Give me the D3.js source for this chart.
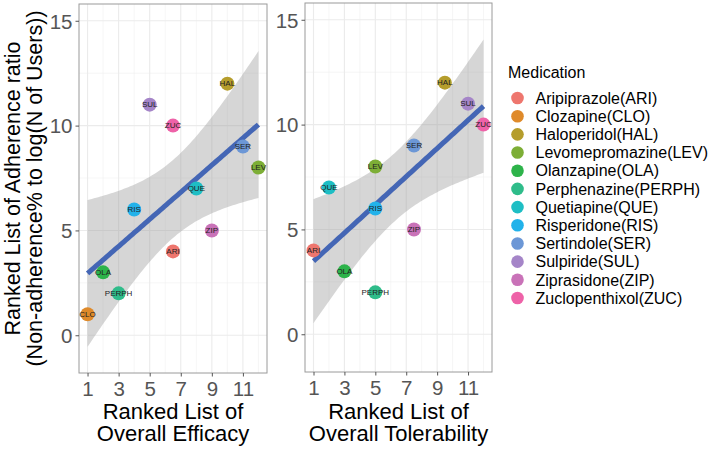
<!DOCTYPE html>
<html>
<head>
<meta charset="utf-8">
<script src="https://cdn.jsdelivr.net/npm/d3@7"></script>
<style>
  html, body { margin: 0; padding: 0; background: #fff; }
  svg { display: block; font-family: "Liberation Sans", Arial, Helvetica, sans-serif; }
</style>
</head>
<body>
<svg id="chart" width="717" height="449"></svg>
<script>
// ---------------- data ----------------
const medications = ["Aripiprazole(ARI)", "Clozapine(CLO)", "Haloperidol(HAL)", "Levomepromazine(LEV)",
  "Olanzapine(OLA)", "Perphenazine(PERPH)", "Quetiapine(QUE)", "Risperidone(RIS)",
  "Sertindole(SER)", "Sulpiride(SUL)", "Ziprasidone(ZIP)", "Zuclopenthixol(ZUC)"];
const codes = ["ARI", "CLO", "HAL", "LEV", "OLA", "PERPH", "QUE", "RIS", "SER", "SUL", "ZIP", "ZUC"];
const medColors = ["#EE766E", "#DF8A2A", "#B59D2C", "#7DAE36", "#2DB34A", "#2FBC8A",
  "#1EBEC4", "#22B2EA", "#6C97D6", "#A585C8", "#C972B8", "#EE62A8"];
const adherenceRank = [4, 1, 12, 8, 3, 2, 7, 6, 9, 11, 5, 10];
const efficacyRank = [6.5, 1, 10, 12, 2, 3, 8, 4, 11, 5, 9, 6.5];
const tolerabilityRank = [1, null, 9.5, 5, 3, 5, 2, 5, 7.5, 11, 7.5, 12];
const xTicks = [1, 3, 5, 7, 9, 11];
const yTicks = [0, 5, 10, 15];
const yTitle = ["Ranked List of Adherence ratio", "(Non-adherence% to log(N of Users))"];
const legendTitle = "Medication";

// ---------------- layout ----------------
const svg = d3.select("#chart");
const panels = [
  { x0: 79, x1: 267, y0: 4, y1: 373, xs: efficacyRank, title: ["Ranked List of", "Overall Efficacy"] },
  { x0: 305, x1: 492, y0: 3, y1: 372, xs: tolerabilityRank, title: ["Ranked List of", "Overall Tolerability"] }
];
const xDomain = [1 - 0.55, 12 + 0.55];
const yDomain = [-1 - 0.8, 15 + 0.8];
const tq = { 8: 2.306, 9: 2.262, 10: 2.228, 11: 2.201 };

function lmFit(pts) {
  const n = pts.length;
  const mx = d3.mean(pts, d => d.x), my = d3.mean(pts, d => d.y);
  const sxx = d3.sum(pts, d => (d.x - mx) ** 2);
  const sxy = d3.sum(pts, d => (d.x - mx) * (d.y - my));
  const b = sxy / sxx, a = my - b * mx;
  const sse = d3.sum(pts, d => (d.y - a - b * d.x) ** 2);
  const s = Math.sqrt(sse / (n - 2));
  const t = tq[n - 2] || 2.2;
  return x => {
    const fit = a + b * x;
    const se = s * Math.sqrt(1 / n + (x - mx) ** 2 / sxx);
    return { x, fit, lo: fit - t * se, hi: fit + t * se };
  };
}

const defs = svg.append("defs");

panels.forEach((p, pi) => {
  const x = d3.scaleLinear().domain(xDomain).range([p.x0, p.x1]);
  const y = d3.scaleLinear().domain(yDomain).range([p.y1, p.y0]);
  const pts = p.xs.map((v, i) => ({ x: v, y: adherenceRank[i], code: codes[i], color: medColors[i] }))
    .filter(d => d.x !== null);

  defs.append("clipPath").attr("id", "clip" + pi)
    .append("rect").attr("x", p.x0).attr("y", p.y0).attr("width", p.x1 - p.x0).attr("height", p.y1 - p.y0);

  const g = svg.append("g");
  g.append("rect").attr("x", p.x0).attr("y", p.y0).attr("width", p.x1 - p.x0).attr("height", p.y1 - p.y0)
    .attr("fill", "#fff");
  const minorX = d3.range(2, 13, 2);
  const minorY = [-2.5, 2.5, 7.5, 12.5];
  const grid = g.append("g").attr("clip-path", `url(#clip${pi})`);
  grid.selectAll(".mx").data(minorX).join("line")
    .attr("x1", d => x(d)).attr("x2", d => x(d)).attr("y1", p.y0).attr("y2", p.y1)
    .attr("stroke", "#F0F0F0").attr("stroke-width", 0.6);
  grid.selectAll(".my").data(minorY).join("line")
    .attr("y1", d => y(d)).attr("y2", d => y(d)).attr("x1", p.x0).attr("x2", p.x1)
    .attr("stroke", "#F0F0F0").attr("stroke-width", 0.6);
  grid.selectAll(".Mx").data(xTicks).join("line")
    .attr("x1", d => x(d)).attr("x2", d => x(d)).attr("y1", p.y0).attr("y2", p.y1)
    .attr("stroke", "#EBEBEB").attr("stroke-width", 1.1);
  grid.selectAll(".My").data(yTicks).join("line")
    .attr("y1", d => y(d)).attr("y2", d => y(d)).attr("x1", p.x0).attr("x2", p.x1)
    .attr("stroke", "#EBEBEB").attr("stroke-width", 1.1);

  // smooth (lm fit with 95% CI)
  const f = lmFit(pts);
  const xmin = d3.min(pts, d => d.x), xmax = d3.max(pts, d => d.x);
  const band = d3.range(0, 81).map(i => f(xmin + (xmax - xmin) * i / 80));
  const sm = g.append("g").attr("clip-path", `url(#clip${pi})`);
  sm.append("path").datum(band)
    .attr("d", d3.area().x(d => x(d.x)).y0(d => y(d.lo)).y1(d => y(d.hi)))
    .attr("fill", "#999999").attr("fill-opacity", 0.4);
  sm.append("path").datum(band)
    .attr("d", d3.line().x(d => x(d.x)).y(d => y(d.fit)))
    .attr("fill", "none").attr("stroke", "#4466B5").attr("stroke-width", 5);

  // points
  g.selectAll("circle.pt").data(pts).join("circle")
    .attr("cx", d => x(d.x)).attr("cy", d => y(d.y)).attr("r", 7)
    .attr("fill", d => d.color);
  g.selectAll("text.lab").data(pts).join("text")
    .attr("x", d => x(d.x)).attr("y", d => y(d.y)).attr("dy", "0.35em")
    .attr("text-anchor", "middle").attr("font-size", 8).attr("fill", "#222")
    .text(d => d.code);

  g.append("rect").attr("x", p.x0).attr("y", p.y0).attr("width", p.x1 - p.x0).attr("height", p.y1 - p.y0)
    .attr("fill", "none").attr("stroke", "#9A9A9A").attr("stroke-width", 1);

  // axes
  const xa = d3.axisBottom(x).tickValues(xTicks).tickSize(3.5).tickPadding(4).tickFormat(d3.format("d"));
  const xg = svg.append("g").attr("transform", `translate(0,${p.y1})`).call(xa);
  const ya = d3.axisLeft(y).tickValues(yTicks).tickSize(3.5).tickPadding(3).tickFormat(d3.format("d"));
  const yg = svg.append("g").attr("transform", `translate(${p.x0},0)`).call(ya);
  [xg, yg].forEach(ag => {
    ag.select(".domain").remove();
    ag.selectAll(".tick line").attr("stroke", "#555");
    ag.selectAll(".tick text").attr("fill", "#555").attr("font-size", 20.5)
      .attr("font-family", "'Liberation Sans', Arial, sans-serif");
  });
  xg.selectAll(".tick text").attr("dy", null).attr("y", 22.5);
  yg.selectAll(".tick text").attr("dy", "0.36em");

  const cx = (p.x0 + p.x1) / 2;
  svg.append("text").attr("x", cx).attr("y", 419).attr("text-anchor", "middle")
    .attr("font-size", 22).attr("fill", "#000").text(p.title[0]);
  svg.append("text").attr("x", cx).attr("y", 441).attr("text-anchor", "middle")
    .attr("font-size", 22).attr("fill", "#000").text(p.title[1]);
});

// y title
const ycy = (panels[0].y0 + panels[0].y1) / 2;
[20, 42].forEach((bx, i) => {
  svg.append("text").attr("transform", `translate(${bx},${ycy}) rotate(-90)`)
    .attr("text-anchor", "middle").attr("font-size", 21.5).attr("fill", "#000").text(yTitle[i]);
});

// legend
const lg = svg.append("g");
lg.append("text").attr("x", 508).attr("y", 78).attr("font-size", 16).attr("fill", "#000").text(legendTitle);
const rowY = d3.scalePoint().domain(medications).range([98, 298]);
lg.selectAll("circle").data(medications).join("circle")
  .attr("cx", 517.5).attr("cy", d => rowY(d)).attr("r", 6.3)
  .attr("fill", (d, i) => medColors[i]);
lg.selectAll("text.item").data(medications).join("text")
  .attr("x", 535.5).attr("y", d => rowY(d)).attr("dy", "0.36em")
  .attr("font-size", 16).attr("fill", "#000").text(d => d);
</script>
</body>
</html>
